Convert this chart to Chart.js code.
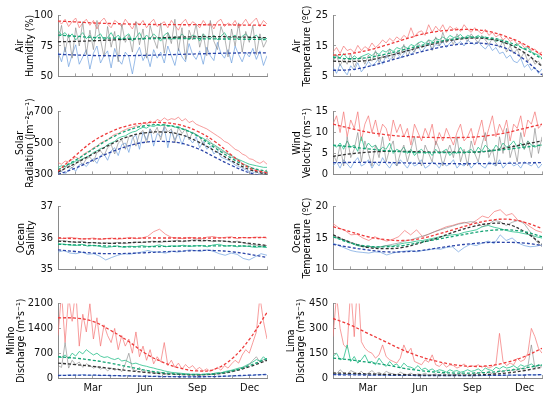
<!DOCTYPE html>
<html>
<head>
<meta charset="utf-8">
<script src="https://cdn.jsdelivr.net/npm/chart.js@4.4.1/dist/chart.umd.min.js"></script>
<style>
    body { margin: 0; background: #fff; width: 550px; height: 398px; position: relative; overflow: hidden; }
    canvas { position: absolute; }
</style>
</head>
<body>
<script>
'use strict';

// month ticks 0..12, labels only on the bottom row
var monthNames = { 2: 'Mar', 5: 'Jun', 8: 'Sep', 11: 'Dec' };

// ---- Air humidity (%)
var humRed = [96,93,97,91,95,98,90,94,97,92,96,89,95,98,93,90,96,94,91,97,93,89,95,92,96,90,94,97,91,93,95,90,96,92,88,94,97,91,95,93,90,96,92,94,89,95,97,91,94,92,96,90,93,97,92,95,98,91,96,93];
var humGreen = [88,84,86,82,85,80,83,86,81,84,79,83,85,80,82,86,81,84,80,83,85,79,82,86,80,84,81,85,82,79,84,86,80,83,81,85,82,80,84,83,79,85,82,81,84,80,83,86,81,82,84,80,83,85,81,82,84,80,82,81];
var humGray = [78,92,70,85,65,90,75,95,68,88,72,96,80,66,91,74,87,62,93,78,84,70,95,76,89,65,92,81,73,94,69,86,77,97,71,90,64,88,80,93,74,85,67,96,79,72,91,83,66,89,75,94,70,87,78,92,68,85,74,80];
var humBlue = [70,62,74,58,68,76,60,66,72,56,69,75,61,67,71,57,73,64,60,70,66,52,68,74,63,69,58,72,65,70,61,75,67,59,73,66,62,77,68,64,71,60,74,67,63,78,69,65,72,61,75,68,62,70,66,73,64,71,59,67];
var humFitRed = [95.5,94.8,94,93.5,93.1,92.8,92.6,92.5,92.5,92.4,92.3,92.2,92];
var humFitGreen = [84,83,82,81.5,81.2,81,81,81,81,80.8,80.7,80.5,80.3];
var humFitBlack = [78.5,78.8,79.3,79.9,80.5,81.2,81.8,82.3,82.6,82.7,82.5,82.2,81.8];
var humFitBlue = [68.2,67.6,67.2,67,67.1,67.3,67.7,68.1,68.5,68.9,69.2,69.3,69.3];

// ---- Air temperature (C)
var tairRed = [13,14.5,12.5,15,13.5,14,12.8,15.2,13.5,14.8,14,16,14.5,15.5,17,16,17.5,16.5,18,17,18.5,17.5,21,18,19.5,20,18.5,22,19.5,21.5,20,22,19.5,21.5,20.5,21,19.8,22,20.5,19.5,21,20,19,20.5,18.5,19.5,18,18.8,17,18,16.5,17.2,15.5,16,14.5,15,13.5,14,12.5,13];
var tairGreen = [11.5,12,11,12.5,11,10.5,11.8,10.8,11.5,12,12.5,11.8,13,12.2,13.5,13,14,13.2,14.5,14,15,14.2,15.5,15,16,16.5,15.8,17,16.5,17.5,17,18,17.2,18.5,17.8,18,18.8,17.5,18.5,18,17.8,18.5,17.5,18,17,17.5,16.5,17,16,16.5,15.5,15,15.8,14.5,14,14.5,13,12.5,12,11];
var tairGray = [10,12,8.5,11,9,12.5,8,10.5,11.5,9,12,10,13.5,9.5,12,11,14,10.5,13,12,15.5,11.5,14,13,16,14.5,15,17,13.5,18,15,19.5,16,17.5,15.5,19,17,18,16.5,19,17.5,16,18.5,17,15.5,17.5,16,14.5,16.5,13,15,12.5,14,11,13,10,11.5,9,10,8.5];
var tairBlue = [8,6,9,7,5.5,8.5,7,9.5,6.5,8,10,8.5,9.5,11,9,12,10.5,11.5,13,11,12.5,14,12,13.5,15,13,14.5,16,14,15.5,15,16.5,14.5,16,17,15.5,16.5,15,17,16,15.5,16.5,15,14,15.5,13.5,14.5,12.5,13,11,12,10,9.5,11,8,9,7,8,6,7.5];
var tairFitRed = [12,12.5,13.6,15.2,17,18.7,19.8,20.3,20.4,19.7,18,15.5,12];
var tairFitGreen = [11.3,10.8,11.2,12.3,13.7,15.1,16.4,17.4,17.9,17.7,16.4,14,10.8];
var tairFitBlack = [10,9.9,10.3,11.5,13,14.6,16,17.1,17.6,17.3,15.8,12.8,8.3];
var tairFitBlue = [7,7.2,8.2,9.8,11.4,13,14.4,15.4,15.9,15.6,14,10.5,5.5];

// ---- Solar radiation
var solRed = [375,365,385,380,395,410,400,425,440,450,470,480,500,510,520,540,555,560,575,585,595,600,610,605,630,620,640,625,650,640,660,645,655,650,665,640,655,630,640,620,610,600,590,575,560,545,530,510,500,480,460,450,430,420,400,395,380,370,385,365];
var solGreen = [345,355,350,365,370,385,390,400,410,420,440,450,465,470,490,500,510,530,540,545,560,570,575,590,600,595,610,605,615,610,620,605,610,600,605,590,585,575,565,555,540,530,515,500,490,475,460,445,430,420,405,395,385,375,365,360,355,350,345,345];
var solGray = [330,320,345,360,340,370,390,360,400,410,380,440,450,420,470,490,430,500,520,460,540,550,480,560,580,500,590,560,600,520,610,570,590,500,600,560,590,520,570,550,540,490,530,510,480,470,450,440,430,410,400,390,370,360,350,340,330,320,310,330];
var solBlue = [310,320,300,330,345,320,360,370,350,380,400,370,420,430,390,450,470,420,490,500,440,530,550,460,570,520,590,480,560,540,600,470,580,520,560,490,550,530,500,540,470,510,460,480,430,450,410,400,390,380,360,350,340,330,320,310,320,300,310,300];
var solFitRed = [320,420,510,570,610,628,630,615,575,510,420,340,310];
var solFitGreen = [330,390,460,530,580,610,615,595,545,470,400,345,320];
var solFitBlack = [315,370,430,490,540,565,570,555,510,450,385,330,300];
var solFitBlue = [300,340,390,440,480,505,510,500,465,410,355,310,285];

// ---- Wind velocity
var windRed = [12,14,10,15,9,13,11,15,8,12,14,10,13,9,12,11,8,13,10,12,9,11,7,12,10,8,11,9,12,7,10,8,11,9,7,10,12,8,9,11,7,10,13,8,11,14,9,12,10,13,8,12,11,14,9,13,12,15,11,12];
var windGreen = [7,6.5,7.5,6,8,6.5,7,5.5,9,6,7.5,6.5,7,5.5,6.5,6,7.5,5,6,5.5,6.5,5,6,4.5,5.5,6,5,5.5,4.5,6,5,5.5,6,4.5,5.5,5,6.5,5,5.5,6,5,6.5,5.5,7,6,5.5,7,6,7.5,6.5,7,8,6.5,7.5,6,8,7,6.5,7,7];
var windGray = [5,3,7,2,9,4,6,10,3,8,5,2,7,4,9,3,6,8,2,5,7,3,6,9,4,2,7,5,3,8,6,2,5,7,4,9,3,6,2,8,5,3,7,10,4,6,2,9,5,11,4,7,3,10,6,8,4,11,5,9];
var windBlue = [2,3,1.5,3.5,2.5,1.5,3,4,2,2.5,3.5,1.5,3,2,4,2.5,1.5,3,2,3.5,2.5,1.5,3,2,2.5,3.5,1.5,2,3,2.5,1.5,3,2,2.5,3.5,1.5,2.5,2,3,1.5,2.5,3,2,1.5,3,2.5,2,3.5,1.5,2.5,3,2,2.5,1.5,3,2.5,2,3,1.5,2.5];
var windFitRed = [12,11,10.1,9.5,9.1,8.9,8.8,8.8,8.9,9.3,10,11,12];
var windFitGreen = [7,6.6,6.1,5.7,5.4,5.2,5.2,5.2,5.3,5.6,6,6.5,7];
var windFitBlack = [4.3,4.9,5.3,5.5,5.5,5.4,5.3,5.3,5.3,5.6,6.4,7.2,8];
var windFitBlue = [2.8,2.85,2.9,2.85,2.75,2.65,2.6,2.55,2.55,2.6,2.65,2.75,2.8];

// ---- Ocean salinity
var salRed = [36.0,35.98,36.02,36.0,35.97,35.98,36.0,35.95,35.98,36.0,35.96,35.98,36.02,35.98,36.0,36.05,36.2,36.28,36.12,36.02,36.0,35.98,36.02,36.0,35.97,36.03,36.05,36.0,36.02,36.04,35.98,36.02,36.0,36.03,36.02,36.0];
var salGreen = [35.82,35.8,35.78,35.76,35.8,35.74,35.77,35.73,35.7,35.72,35.75,35.7,35.74,35.72,35.76,35.73,35.74,35.78,35.72,35.75,35.74,35.77,35.73,35.75,35.76,35.72,35.78,35.8,35.74,35.76,35.72,35.75,35.73,35.7,35.72,35.7];
var salGray = [35.9,35.92,35.88,35.86,35.9,35.84,35.86,35.82,35.85,35.83,35.86,35.82,35.84,35.87,35.85,35.88,35.9,35.86,35.88,35.9,35.93,35.88,35.92,35.95,35.9,35.93,35.88,35.92,35.9,35.86,35.9,35.85,35.8,35.78,35.75,35.76];
var salBlue = [35.55,35.6,35.52,35.5,35.55,35.48,35.5,35.42,35.3,35.38,35.45,35.5,35.48,35.52,35.55,35.6,35.56,35.55,35.52,35.58,35.55,35.58,35.62,35.6,35.58,35.62,35.58,35.5,35.45,35.52,35.48,35.35,35.3,35.4,35.5,35.45];
var salFitRed = [36.0,35.98,35.97,35.98,35.99,36.0,36.0,36.0,36.0,36.0,36.01,36.01,36.02];
var salFitGreen = [35.8,35.78,35.76,35.74,35.72,35.72,35.73,35.74,35.75,35.75,35.75,35.74,35.72];
var salFitBlack = [35.9,35.87,35.85,35.83,35.85,35.87,35.89,35.9,35.92,35.91,35.88,35.83,35.76];
var salFitBlue = [35.62,35.57,35.52,35.5,35.51,35.53,35.56,35.58,35.6,35.6,35.56,35.48,35.38];

// ---- Ocean temperature
var toceRed = [17.3,16.6,16.2,15.5,15.6,15,14.6,15.2,14.8,14.5,14.8,15.2,16.2,15.5,16.3,15.2,15.6,16,16.4,16.8,17,17.3,17.5,17.2,17.8,18.5,18.2,19.2,19.5,18.6,18.9,17.8,17.5,16.8,16.2,15.9];
var toceGreen = [15.2,14.9,14.6,14.2,13.8,13.6,13.7,13.5,13.6,13.8,13.7,14,14.2,14.3,14.5,14.6,14.8,15,15.2,15.4,15.5,15.6,15.9,16.1,16.3,16.8,17,16.7,16.5,16.2,16,15.9,15.7,15.5,15.2,15];
var toceGray = [15.4,15,14.7,14.3,14,13.7,13.6,13.5,13.6,13.8,14,14.2,14.5,14.7,15,15.3,15.6,16,16.3,16.6,16.9,17.2,17.4,17.6,17.5,16.8,17.2,17.8,17.6,17,17.5,17.8,17.3,16,14.5,13.6];
var toceBlue = [14.2,13.8,13.4,13,12.8,12.7,12.6,12.8,12.7,12.3,12.6,12.8,12.9,13,12.8,13,13.1,13.3,13.2,13.5,13.6,12.8,13.5,14,13.8,14.2,14.5,14.1,15.5,14.6,15,14.2,13.8,13.6,13.7,13.9];
var toceFitRed = [16.8,16,15.2,14.75,14.6,14.9,15.6,16.4,17.2,17.8,18,17.5,16.5];
var toceFitGreen = [15.2,14.2,13.7,13.6,13.8,14.3,14.8,15.3,15.8,16.2,16.3,16,15.2];
var toceFitBlack = [15.5,14.3,13.5,13.3,13.5,14.2,15,16,16.8,17.3,17.2,16,14];
var toceFitBlue = [14,13.5,13.1,12.8,12.8,13,13.4,13.8,14.1,14.3,14.3,14.2,13.8];

// ---- Minho discharge
var minhoRed = [1200,2400,1000,2300,1600,2500,900,1800,1300,2100,1100,1700,900,1500,1200,1000,1400,800,1200,900,1100,700,1300,600,900,500,800,400,600,450,1000,350,500,300,420,250,380,280,350,230,300,200,260,180,240,300,220,350,280,400,500,420,650,800,700,1000,1300,2300,1600,1100];
var minhoGreen = [600,580,650,550,700,620,750,680,800,720,650,700,620,580,600,550,520,560,480,500,450,400,420,380,350,330,300,280,250,230,200,180,160,150,140,130,120,110,100,110,90,100,120,100,130,150,140,180,200,220,250,280,300,350,400,450,520,480,600,500];
var minhoGray = [350,300,1000,280,500,380,450,300,400,350,280,320,250,300,200,280,220,260,180,400,700,250,200,300,150,220,180,150,130,160,120,110,140,100,120,90,110,80,100,90,80,100,90,110,100,120,150,130,180,200,220,250,280,320,380,500,600,450,520,480];
var minhoBlue = [60,80,70,90,75,85,70,95,80,70,85,75,65,80,70,60,75,65,55,70,60,50,65,55,45,60,50,40,55,45,40,50,35,45,40,35,45,30,40,35,30,40,35,45,40,50,45,55,50,60,55,65,60,70,80,75,90,85,100,95];
var minhoFitRed = [1700,1690,1600,1350,1050,700,450,280,200,250,550,1100,1850];
var minhoFitGreen = [600,560,500,420,320,220,150,110,100,120,200,350,550];
var minhoFitBlack = [420,380,330,270,210,160,120,100,90,110,180,320,500];
var minhoFitBlue = [70,80,80,70,60,50,40,35,35,40,60,80,100];

// ---- Lima discharge
var limaRed = [250,500,300,200,180,550,250,600,220,180,160,150,120,140,200,130,110,100,90,120,200,150,180,100,90,80,110,95,140,80,70,90,65,80,75,60,70,85,65,75,70,80,65,75,60,70,85,270,100,75,90,80,120,100,110,150,300,250,180,150];
var limaGreen = [130,150,110,120,200,100,130,90,110,140,95,100,80,120,90,70,100,75,85,60,90,70,65,55,75,50,60,45,55,40,50,45,35,50,40,45,35,40,50,40,45,55,40,60,50,45,65,55,70,60,65,75,60,80,70,75,85,70,80,75];
var limaGray = [40,25,50,30,20,45,35,25,40,20,30,45,25,35,20,40,30,25,20,35,25,20,30,15,25,20,30,15,20,25,15,30,20,15,25,20,30,15,25,20,30,25,35,20,40,25,30,45,35,50,40,55,45,60,50,70,200,60,80,65];
var limaBlue = [22,20,25,18,22,20,24,18,20,22,19,17,20,18,16,19,17,15,18,16,14,17,15,16,14,15,17,14,16,15,14,16,13,15,14,16,15,13,15,14,16,15,14,17,15,16,18,15,17,16,18,17,19,18,17,20,19,18,20,19];
var limaFitRed = [360,320,270,220,170,130,100,80,70,75,95,130,180];
var limaFitGreen = [120,110,95,80,60,45,35,30,30,35,45,60,80];
var limaFitBlack = [30,28,25,22,20,18,17,17,18,22,30,45,65];
var limaFitBlue = [20,19,18,17,16,15,15,15,15,16,17,18,20];

var panels = [
    { left: 0,   top: 11,  h: 78, title: ['Air', 'Humidity (%)'],            min: 50, max: 100, step: 25,  tpad: 15, bottom: false,
      fits: [humFitRed, humFitGreen, humFitBlack, humFitBlue], raw: [humRed, humGreen, humGray, humBlue] },
    { left: 275, top: 11,  h: 78, title: ['Air', 'Temperature (ºC)'],        min: 5,  max: 25,  step: 10,  tpad: 17, bottom: false,
      fits: [tairFitRed, tairFitGreen, tairFitBlack, tairFitBlue], raw: [tairRed, tairGreen, tairGray, tairBlue] },
    { left: 0,   top: 107, h: 80, title: ['Solar', 'Radiation (Jm⁻²s⁻¹)'],   min: 300, max: 700, step: 200, tpad: 15, bottom: false,
      fits: [solFitRed, solFitGreen, solFitBlack, solFitBlue], raw: [solRed, solGreen, solGray, solBlue] },
    { left: 275, top: 107, h: 80, title: ['Wind', 'Velocity (ms⁻¹)'],         min: 0,  max: 15,  step: 5,   tpad: 17, bottom: false,
      fits: [windFitRed, windFitGreen, windFitBlack, windFitBlue], raw: [windRed, windGreen, windGray, windBlue] },
    { left: 0,   top: 202, h: 80, title: ['Ocean', 'Salinity'],               min: 35, max: 37,  step: 1,   tpad: 16, bottom: false,
      fits: [salFitRed, salFitGreen, salFitBlack, salFitBlue], raw: [salRed, salGreen, salGray, salBlue] },
    { left: 275, top: 202, h: 80, title: ['Ocean', 'Temperature (ºC)'],      min: 10, max: 20,  step: 5,   tpad: 17, bottom: false,
      fits: [toceFitRed, toceFitGreen, toceFitBlack, toceFitBlue], raw: [toceRed, toceGreen, toceGray, toceBlue] },
    { left: 0,   top: 299, h: 79, title: ['Minho', 'Discharge (m³s⁻¹)'],     min: 0,  max: 2100, step: 700, tpad: 6, bottom: true,
      fits: [minhoFitRed, minhoFitGreen, minhoFitBlack, minhoFitBlue], raw: [minhoRed, minhoGreen, minhoGray, minhoBlue] },
    { left: 275, top: 299, h: 79, title: ['Lima', 'Discharge (m³s⁻¹)'],      min: 0,  max: 450, step: 150, tpad: 11, bottom: true,
      fits: [limaFitRed, limaFitGreen, limaFitBlack, limaFitBlue], raw: [limaRed, limaGreen, limaGray, limaBlue] }
];

var fitColors = ['#ee3b3b', '#14a374', '#333333', '#2b45a8'];
var rawColors = ['rgba(244,115,115,0.7)', 'rgba(50,195,145,0.85)', 'rgba(130,130,130,0.6)', 'rgba(110,160,222,0.7)'];
var AXIS = '#8a8a8a';
var FONT = '"DejaVu Sans Condensed", "DejaVu Sans", sans-serif';

// spread a series evenly over the year (0..12 months)
function toPoints(vals) {
    return vals.map(function (v, i) {
        return { x: i * 12 / (vals.length - 1), y: v };
    });
}

var PAD_TOP = 10;

panels.forEach(function (p) {
    var xh = p.bottom ? 20 : 2;
    var canvas = document.createElement('canvas');
    canvas.width = 275;
    canvas.height = PAD_TOP + p.h + xh;
    canvas.style.left = p.left + 'px';
    canvas.style.top = (p.top - PAD_TOP) + 'px';
    document.body.appendChild(canvas);

    var datasets = [];
    p.fits.forEach(function (arr, k) {
        datasets.push({
            data: toPoints(arr), borderColor: fitColors[k], borderWidth: 1.3,
            borderDash: [3, 2], tension: 0.4, pointRadius: 0, fill: false
        });
    });
    // raw series: red drawn lowest, so it goes last
    [2, 1, 3, 0].forEach(function (k) {
        datasets.push({
            data: toPoints(p.raw[k]), borderColor: rawColors[k], borderWidth: 1,
            tension: 0, pointRadius: 0, fill: false
        });
    });

    new Chart(canvas.getContext('2d'), {
        type: 'line',
        data: { datasets: datasets },
        options: {
            responsive: false,
            animation: false,
            devicePixelRatio: 1,
            layout: { padding: { top: PAD_TOP, right: 8, bottom: 0, left: 0 } },
            plugins: { legend: { display: false }, tooltip: { enabled: false } },
            scales: {
                x: {
                    type: 'linear', min: 0, max: 12,
                    afterFit: function (scale) { scale.height = xh; },
                    ticks: {
                        stepSize: 1, padding: 7, autoSkip: false, maxRotation: 0,
                        color: '#111', font: { family: FONT, size: 11 },
                        callback: function (v) { return p.bottom ? (monthNames[v] || '') : ''; }
                    },
                    grid: { drawOnChartArea: false, drawTicks: true, tickLength: -3, color: AXIS, lineWidth: 0.8 },
                    border: { color: AXIS, width: 1 }
                },
                y: {
                    min: p.min, max: p.max,
                    afterFit: function (scale) { scale.width = 58; },
                    ticks: {
                        stepSize: p.step, padding: 8, color: '#111',
                        font: { family: FONT, size: 11 },
                        callback: function (v) { return String(v); }
                    },
                    grid: { drawOnChartArea: false, drawTicks: true, tickLength: -3, color: AXIS, lineWidth: 0.8 },
                    border: { color: AXIS, width: 1 },
                    title: {
                        display: true, text: p.title, color: '#000',
                        font: { family: FONT, size: 10.5, lineHeight: 1.0 },
                        padding: { top: p.tpad, bottom: 0 }
                    }
                }
            }
        }
    });
});
</script>
</body>
</html>
